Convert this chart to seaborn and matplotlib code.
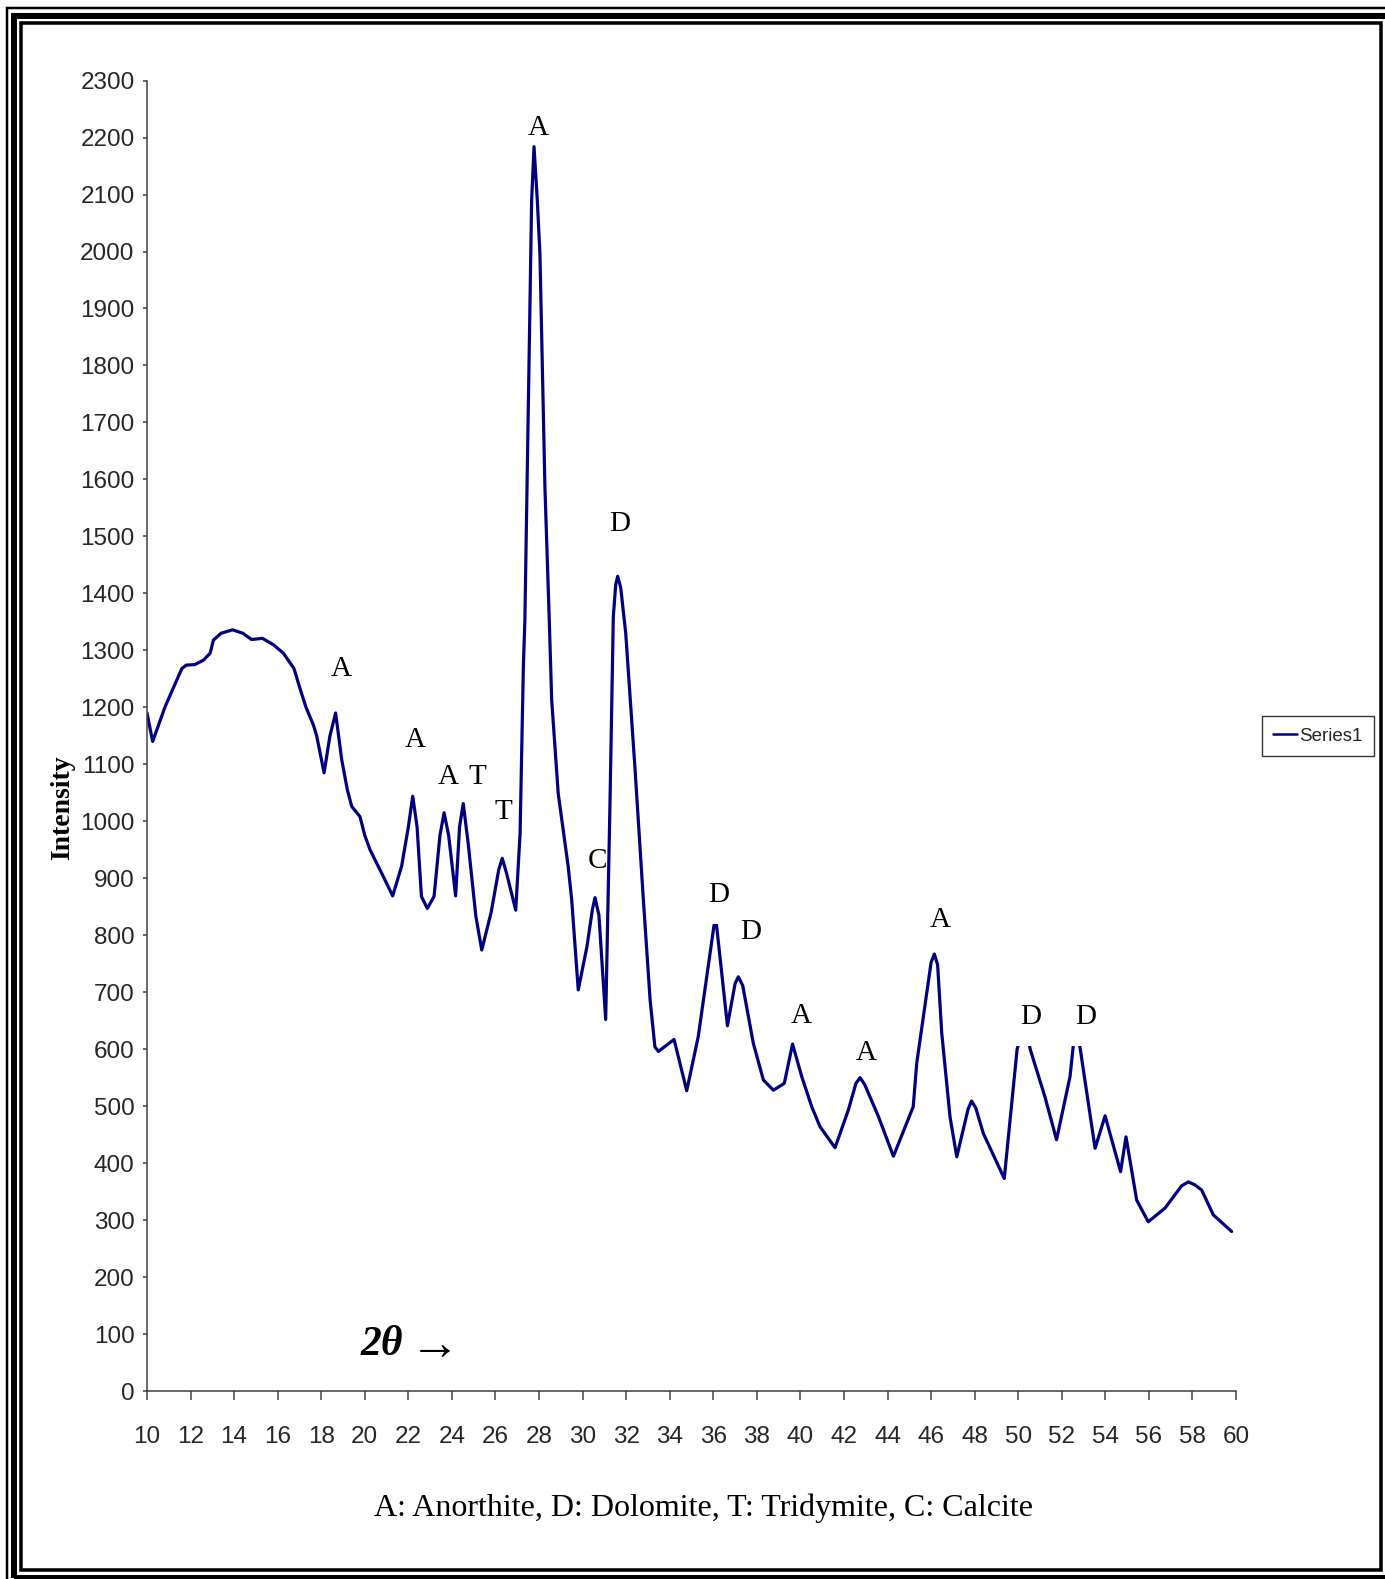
import matplotlib
matplotlib.use("Agg")
import matplotlib.pyplot as plt
from matplotlib.patches import Rectangle
import seaborn as sns
import pandas as pd

# XRD pattern: 2-theta (degrees) and measured intensity
two_theta = [10.0, 10.26, 10.83, 11.6, 11.8, 12.2, 12.6, 12.9, 13.05, 13.4, 13.93,
             14.4, 14.8, 15.3, 15.8, 16.26, 16.75, 17.0, 17.3, 17.64, 17.79, 18.13,
             18.4, 18.66, 18.94, 19.2, 19.4, 19.78, 20.0, 20.24, 20.85, 21.28, 21.69,
             22.0, 22.2, 22.4, 22.6, 22.87, 23.18, 23.45, 23.64, 23.85, 24.17, 24.35,
             24.52, 24.75, 25.1, 25.37, 25.8, 26.15, 26.31, 26.5, 26.93, 27.13, 27.28,
             27.35, 27.55, 27.66, 27.77, 27.92, 28.04, 28.27, 28.47, 28.58, 28.88,
             29.34, 29.5, 29.8, 30.2, 30.45, 30.57, 30.75, 31.06, 31.26, 31.41, 31.52,
             31.61, 31.75, 31.98, 32.4, 32.79, 33.1, 33.32, 33.48, 34.2, 34.78, 35.31,
             36.1, 36.65, 37.0, 37.15, 37.35, 37.84, 38.3, 38.76, 39.26, 39.64, 40.06,
             40.52, 40.9, 41.59, 42.2, 42.55, 42.74, 42.95, 43.58, 44.27, 45.18, 45.34,
             46.0, 46.15, 46.3, 46.49, 46.87, 47.18, 47.7, 47.86, 48.05, 48.4, 49.36,
             49.95, 50.3, 50.55, 51.23, 51.76, 52.38, 52.65, 52.85, 53.53, 53.99, 54.7,
             54.95, 55.44, 55.97, 56.74, 57.5, 57.81, 58.1, 58.42, 58.96, 59.8]
intensity = [1190, 1140, 1201, 1268, 1274, 1275, 1283, 1295, 1318, 1330, 1336,
             1330, 1319, 1321, 1310, 1295, 1268, 1236, 1200, 1169, 1150, 1085,
             1150, 1190, 1108, 1055, 1026, 1008, 975, 950, 903, 869, 921,
             990, 1044, 990, 868, 847, 868, 975, 1015, 975, 869, 990,
             1031, 960, 833, 774, 840, 915, 935, 910, 844, 979, 1271,
             1353, 1822, 2090, 2184, 2090, 1997, 1587, 1353, 1213, 1049,
             920, 862, 704, 780, 845, 866, 835, 652, 1037, 1359, 1415,
             1430, 1410, 1330, 1096, 862, 686, 604, 596, 617, 527, 622,
             835, 641, 715, 727, 712, 610, 546, 528, 540, 609, 552,
             499, 464, 427, 493, 540, 550, 538, 482, 412, 499, 575,
             752, 767, 748, 628, 481, 411, 495, 509, 497, 452, 373,
             600, 650, 600, 516, 441, 552, 650, 600, 426, 483, 385,
             446, 335, 297, 321, 360, 367, 362, 353, 309, 280]

# Phase identification labels
peak_labels = ["A", "A", "A", "T", "T", "A", "C", "D", "D", "D", "A", "A", "A", "D", "D"]
label_x = [18.93, 22.3, 23.83, 25.17, 26.37, 27.95, 30.68, 31.69, 36.27, 37.7,
           40.06, 43.03, 46.4, 50.56, 53.1]
label_y = [1267, 1143, 1078, 1078, 1016, 2217, 930, 1522, 870, 806,
           658, 594, 826, 656, 656]

x_ticks = list(range(10, 61, 2))
y_ticks = list(range(0, 2301, 100))

W, H = 1385, 1579
sns.set_theme(style="white")
sans = ["Liberation Sans", "DejaVu Sans"]
serif = ["Liberation Serif", "DejaVu Serif"]
plt.rcParams["font.family"] = sans

fig = plt.figure(figsize=(W / 100, H / 100), dpi=100)
fig.patch.set_facecolor("white")
ax = fig.add_axes([147 / W, 1 - 1391 / H, (1236 - 147) / W, (1391 - 80.6) / H])
ax.set_facecolor("white")

df = pd.DataFrame({"two_theta": two_theta, "intensity": intensity})
sns.lineplot(data=df, x="two_theta", y="intensity", ax=ax, color="#000080",
             linewidth=2.3, label="Series1", sort=False, estimator=None, zorder=2)
for ln in ax.get_lines():
    ln.set_solid_joinstyle("round")
    ln.set_solid_capstyle("round")

ax.set_xlim(10, 60)
ax.set_ylim(0, 2300)
ax.set_xticks(x_ticks)
ax.set_yticks(y_ticks)
ax.set_xticklabels([str(v) for v in x_ticks], fontsize=17.5, family=sans)
ax.set_yticklabels([str(v) for v in y_ticks], fontsize=17.5, family=sans)
ax.tick_params(axis="x", direction="out", length=6.5, width=1.1, color="#404040",
               pad=19, bottom=True)
ax.tick_params(axis="y", direction="out", length=3, width=1.1, color="#404040",
               pad=6, left=True)
for side in ("top", "right"):
    ax.spines[side].set_visible(False)
for side in ("left", "bottom"):
    ax.spines[side].set_color("#404040")
    ax.spines[side].set_linewidth(1.1)
ax.set_xlabel("")
ax.set_ylabel("")

# Peak labels; the dolomite labels near clipped peaks sit on opaque white boxes
boxed = {8, 13, 14}
for i, (t, lx, ly) in enumerate(zip(peak_labels, label_x, label_y)):
    if i in boxed:
        ax.text(lx, ly, t, ha="center", va="center", fontsize=21, family=serif,
                color=(0, 0, 0, 0), zorder=3,
                bbox=dict(boxstyle="square,pad=0.55", fc="white", ec="none"))
for t, lx, ly in zip(peak_labels, label_x, label_y):
    ax.text(lx, ly, t, ha="center", va="center", fontsize=21, family=serif,
            color="black", zorder=4)

ax.text(21.75, 80, "2\u03b8", ha="right", va="center", fontsize=30,
        family=serif, fontweight="bold", fontstyle="italic", color="black")
ax.text(23.2, 78, "\u2192", ha="center", va="center", fontsize=36,
        family=serif, color="black")

fig.text(62.5 / W, 1 - 808 / H, "Intensity", rotation=90, ha="center", va="center",
         fontsize=20, family=serif, fontweight="bold", color="black")
fig.text(703 / W, 1 - 1508 / H, "A: Anorthite, D: Dolomite, T: Tridymite, C: Calcite",
         ha="center", va="center", fontsize=23, family=serif, color="black")

leg = ax.legend(loc="center left", bbox_to_anchor=(1262 / W, 1 - 736 / H),
                bbox_transform=fig.transFigure, borderaxespad=0, fancybox=False,
                frameon=True, handlelength=1.25, handletextpad=0.12,
                borderpad=0.6, prop={"family": sans, "size": 13.5})
leg.get_frame().set_edgecolor("black")
leg.get_frame().set_linewidth(1.0)
for line in leg.get_lines():
    line.set_linewidth(1.8)

# Triple border around the chart area (pixel units)
def border(x0, y0, x1, y1, lw_px):
    fig.add_artist(Rectangle((x0 / W, 1 - y1 / H), (x1 - x0) / W, (y1 - y0) / H,
                             transform=fig.transFigure, fill=False, ec="black",
                             lw=lw_px * 0.72, clip_on=False))

border(7, 8, 1394, 1586, 2.5)
border(14, 15.5, 1386.5, 1578, 6)
border(21, 22.5, 1380.5, 1569.5, 3.5)

fig.savefig("out.png", dpi=100, facecolor="white")
